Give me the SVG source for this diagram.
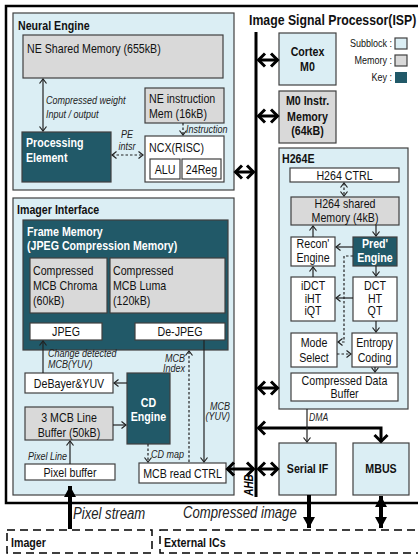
<svg xmlns="http://www.w3.org/2000/svg" width="418" height="556" viewBox="0 0 418 556">
<style>
text { font-family: "Liberation Sans", Arial, sans-serif; font-size: 13px; fill: #111; }
.b { font-weight: bold; }
.w { fill: #fff; font-weight: bold; }
.i { font-style: italic; font-size: 11px; fill: #222; }
.c { text-anchor: middle; }
.e { text-anchor: end; }
.lb { fill: #dbeef4; stroke: #404040; stroke-width: 1.2; }
.gr { fill: #d9d9d9; stroke: #404040; stroke-width: 1.2; }
.wh { fill: #fff; stroke: #404040; stroke-width: 1.2; }
.tl { fill: #215968; stroke: #404040; stroke-width: 1.2; }
.ln { fill: none; stroke: #222; stroke-width: 1.2; }
.da { fill: none; stroke: #222; stroke-width: 1.2; stroke-dasharray: 2.5,2; }
.bus { fill: none; stroke: #000; stroke-width: 3; }
.big { fill: none; stroke: #000; stroke-width: 4; }
.dash { fill: none; stroke: #000; stroke-width: 1.5; stroke-dasharray: 8,5; }
</style>
<defs>
<marker id="h" markerWidth="8" markerHeight="10" refX="5.5" refY="5" orient="auto-start-reverse" markerUnits="userSpaceOnUse">
<path d="M1,1.5 L5.5,5 L1,8.5" fill="none" stroke="#222" stroke-width="1.2"/>
</marker>
<marker id="hb" markerWidth="12" markerHeight="16" refX="9" refY="8" orient="auto-start-reverse" markerUnits="userSpaceOnUse">
<path d="M2,1.5 L8.5,8 L2,14.5" fill="none" stroke="#000" stroke-width="3"/>
</marker>
<marker id="ht" markerWidth="14" markerHeight="14" refX="11" refY="7" orient="auto-start-reverse" markerUnits="userSpaceOnUse">
<path d="M0,1 L11,7 L0,13 Z" fill="#000"/>
</marker>
</defs>

<rect x="6" y="6" width="430" height="497" fill="#fff" stroke="#000" stroke-width="2.5"/>
<text class="b" transform="matrix(.82 0 0 1 249 25)" style="font-size:15px">Image Signal Processor(ISP)</text>

<g id="legend">
<text class="e" transform="matrix(.82 0 0 1 392 47)" style="font-size:11px">Subblock :</text>
<rect x="395" y="38" width="12" height="11" class="lb"/>
<text class="e" transform="matrix(.82 0 0 1 392 64)" style="font-size:11px">Memory :</text>
<rect x="395" y="55" width="12" height="11" class="gr"/>
<text class="e" transform="matrix(.82 0 0 1 392 81)" style="font-size:11px">Key :</text>
<rect x="395" y="72" width="12" height="11" fill="#215968"/>
</g>

<g id="neural-engine">
<rect x="13" y="13" width="221" height="177" class="lb"/>
<text class="b" transform="matrix(.82 0 0 1 18 30)">Neural Engine</text>
</g>
<g id="ne-shared-memory">
<rect x="23" y="35" width="200" height="43" class="gr"/>
<text transform="matrix(.82 0 0 1 27 53)">NE Shared Memory (655kB)</text>
</g>
<g id="processing-element">
<rect x="22" y="132" width="89" height="50" class="tl"/>
<text class="w" transform="matrix(.82 0 0 1 26 147)">Processing</text>
<text class="w" transform="matrix(.82 0 0 1 26 162)">Element</text>
</g>
<g id="ne-instruction-mem">
<rect x="145" y="88" width="79" height="35" class="gr"/>
<text transform="matrix(.82 0 0 1 149 103)">NE instruction</text>
<text transform="matrix(.82 0 0 1 149 118)">Mem (16kB)</text>
</g>
<g id="ncx">
<rect x="145" y="136" width="79" height="46" class="wh"/>
<text transform="matrix(.82 0 0 1 149 152)">NCX(RISC)</text>
<rect x="150" y="159" width="30" height="20" class="wh"/>
<text class="c" transform="matrix(.82 0 0 1 165 174)">ALU</text>
<rect x="182" y="159" width="39" height="20" class="wh"/>
<text class="c" transform="matrix(.82 0 0 1 201.5 174)">24Reg</text>
</g>

<g id="cortex-m0">
<rect x="279" y="33" width="57" height="52" class="lb"/>
<text class="b c" transform="matrix(.82 0 0 1 307.5 56)">Cortex</text>
<text class="b c" transform="matrix(.82 0 0 1 307.5 71)">M0</text>
</g>
<g id="m0-instr-memory">
<rect x="279" y="91" width="57" height="52" class="gr"/>
<text class="b c" transform="matrix(.82 0 0 1 307.5 105)">M0 Instr.</text>
<text class="b c" transform="matrix(.82 0 0 1 307.5 121)">Memory</text>
<text class="b c" transform="matrix(.82 0 0 1 307.5 135)">(64kB)</text>
</g>

<g id="h264e">
<rect x="279" y="148" width="129" height="261" class="lb"/>
<text class="b" transform="matrix(.82 0 0 1 282 163)">H264E</text>
</g>
<g id="h264-ctrl">
<rect x="290" y="168" width="109" height="14" class="wh"/>
<text class="c" transform="matrix(.82 0 0 1 344.5 179.5)">H264 CTRL</text>
</g>
<g id="h264-shared-memory">
<rect x="291" y="197" width="108" height="28" class="gr"/>
<text class="c" transform="matrix(.82 0 0 1 345 208)">H264 shared</text>
<text class="c" transform="matrix(.82 0 0 1 345 222)">Memory (4kB)</text>
</g>
<g id="recon-engine">
<rect x="291" y="237" width="44" height="29" class="wh"/>
<text class="c" transform="matrix(.82 0 0 1 313 248)">Recon'</text>
<text class="c" transform="matrix(.82 0 0 1 313 262)">Engine</text>
</g>
<g id="pred-engine">
<rect x="353" y="237" width="44" height="29" class="tl"/>
<text class="w c" transform="matrix(.82 0 0 1 375 248)">Pred'</text>
<text class="w c" transform="matrix(.82 0 0 1 375 262)">Engine</text>
</g>
<g id="idct">
<rect x="291" y="277" width="44" height="44" class="wh"/>
<text class="c" transform="matrix(.82 0 0 1 313 289.5)">iDCT</text>
<text class="c" transform="matrix(.82 0 0 1 313 302.5)">iHT</text>
<text class="c" transform="matrix(.82 0 0 1 313 315)">iQT</text>
</g>
<g id="dct">
<rect x="353" y="277" width="44" height="44" class="wh"/>
<text class="c" transform="matrix(.82 0 0 1 375 289.5)">DCT</text>
<text class="c" transform="matrix(.82 0 0 1 375 302.5)">HT</text>
<text class="c" transform="matrix(.82 0 0 1 375 315)">QT</text>
</g>
<g id="mode-select">
<rect x="291" y="333" width="46" height="34" class="wh"/>
<text class="c" transform="matrix(.82 0 0 1 314 347)">Mode</text>
<text class="c" transform="matrix(.82 0 0 1 314 362)">Select</text>
</g>
<g id="entropy-coding">
<rect x="352" y="333" width="45" height="34" class="wh"/>
<text class="c" transform="matrix(.82 0 0 1 374.5 347)">Entropy</text>
<text class="c" transform="matrix(.82 0 0 1 374.5 362)">Coding</text>
</g>
<g id="compressed-data-buffer">
<rect x="291" y="373" width="107" height="28" class="wh"/>
<text class="c" transform="matrix(.82 0 0 1 344.5 384.5)">Compressed Data</text>
<text class="c" transform="matrix(.82 0 0 1 344.5 398)">Buffer</text>
</g>

<g id="serial-if">
<rect x="279" y="443" width="57" height="52" class="lb"/>
<text class="b c" transform="matrix(.82 0 0 1 307.5 473)">Serial IF</text>
</g>
<g id="mbus">
<rect x="353" y="443" width="56" height="52" class="lb"/>
<text class="b c" transform="matrix(.82 0 0 1 381 473)">MBUS</text>
</g>

<g id="imager-interface">
<rect x="13" y="198" width="221" height="297" class="lb"/>
<text class="b" transform="matrix(.82 0 0 1 17 214)">Imager Interface</text>
</g>
<g id="frame-memory">
<rect x="23" y="220" width="205" height="130" class="tl"/>
<text class="w" transform="matrix(.82 0 0 1 27 236)">Frame Memory</text>
<text class="w" transform="matrix(.82 0 0 1 27 250)">(JPEG Compression Memory)</text>
</g>
<g id="mcb-chroma">
<rect x="30" y="258" width="77" height="55" class="gr"/>
<text transform="matrix(.82 0 0 1 33 275)">Compressed</text>
<text transform="matrix(.82 0 0 1 33 290)">MCB Chroma</text>
<text transform="matrix(.82 0 0 1 33 305)">(60kB)</text>
</g>
<g id="mcb-luma">
<rect x="110" y="258" width="115" height="55" class="gr"/>
<text transform="matrix(.82 0 0 1 113 275)">Compressed</text>
<text transform="matrix(.82 0 0 1 113 290)">MCB Luma</text>
<text transform="matrix(.82 0 0 1 113 305)">(120kB)</text>
</g>
<g id="jpeg">
<rect x="30" y="323" width="72" height="17" class="wh"/>
<text class="c" transform="matrix(.82 0 0 1 66 336)">JPEG</text>
</g>
<g id="de-jpeg">
<rect x="135" y="323" width="90" height="17" class="wh"/>
<text class="c" transform="matrix(.82 0 0 1 180 336)">De-JPEG</text>
</g>
<g id="debayer">
<rect x="25" y="373" width="88" height="20" class="wh"/>
<text class="c" transform="matrix(.82 0 0 1 69 387.5)">DeBayer&amp;YUV</text>
</g>
<g id="cd-engine">
<rect x="127" y="373" width="43" height="71" class="tl"/>
<text class="w c" transform="matrix(.82 0 0 1 148.5 407)">CD</text>
<text class="w c" transform="matrix(.82 0 0 1 148.5 421)">Engine</text>
</g>
<g id="line-buffer">
<rect x="25" y="407" width="88" height="33" class="gr"/>
<text class="c" transform="matrix(.82 0 0 1 69 422)">3 MCB Line</text>
<text class="c" transform="matrix(.82 0 0 1 69 437)">Buffer (50kB)</text>
</g>
<g id="pixel-buffer">
<rect x="25" y="464" width="90" height="16" class="wh"/>
<text class="c" transform="matrix(.82 0 0 1 70 476.5)">Pixel buffer</text>
</g>
<g id="mcb-read-ctrl">
<rect x="139" y="463" width="87" height="20" class="wh"/>
<text class="c" transform="matrix(.82 0 0 1 182.5 477.5)">MCB read CTRL</text>
</g>

<g id="imager">
<rect x="7" y="530" width="145" height="23" class="dash"/>
<text class="b" transform="matrix(.82 0 0 1 11 547)">Imager</text>
</g>
<g id="external-ics">
<rect x="160" y="530" width="270" height="23" class="dash"/>
<text class="b" transform="matrix(.82 0 0 1 164 547)">External ICs</text>
</g>

<g id="connectors">
<line x1="256" y1="32" x2="256" y2="497" class="bus"/>
<line x1="235" y1="172" x2="254" y2="172" class="bus" marker-start="url(#hb)" marker-end="url(#hb)"/>
<line x1="258" y1="60" x2="278" y2="60" class="bus" marker-start="url(#hb)" marker-end="url(#hb)"/>
<line x1="258" y1="116" x2="278" y2="116" class="bus" marker-start="url(#hb)" marker-end="url(#hb)"/>
<line x1="258" y1="388" x2="278" y2="388" class="bus" marker-start="url(#hb)" marker-end="url(#hb)"/>
<line x1="258" y1="469" x2="278" y2="469" class="bus" marker-start="url(#hb)" marker-end="url(#hb)"/>
<line x1="227" y1="469" x2="254" y2="469" class="bus" marker-start="url(#hb)" marker-end="url(#hb)"/>
<path d="M258,428 H381 V442" class="bus" marker-start="url(#hb)" marker-end="url(#hb)"/>

<line x1="43" y1="79" x2="43" y2="131" class="ln" marker-start="url(#h)" marker-end="url(#h)"/>
<text class="i" transform="matrix(.82 0 0 1 46 104)">Compressed weight</text>
<text class="i" transform="matrix(.82 0 0 1 46 118)">Input / output</text>
<line x1="112" y1="155" x2="143" y2="155" class="da" marker-start="url(#h)" marker-end="url(#h)"/>
<text class="i c" transform="matrix(.82 0 0 1 127 138)">PE</text>
<text class="i c" transform="matrix(.82 0 0 1 127 150)">intsr</text>
<line x1="183" y1="123" x2="183" y2="135" class="da" marker-end="url(#h)"/>
<text class="i" transform="matrix(.82 0 0 1 186 133)">Instruction</text>

<line x1="344" y1="183" x2="344" y2="196" class="da" marker-start="url(#h)" marker-end="url(#h)"/>
<line x1="313" y1="237" x2="313" y2="226" class="ln" marker-end="url(#h)"/>
<line x1="376" y1="225" x2="376" y2="236" class="ln" marker-end="url(#h)"/>
<line x1="353" y1="247" x2="336" y2="247" class="ln" marker-end="url(#h)"/>
<line x1="313" y1="277" x2="313" y2="267" class="ln" marker-end="url(#h)"/>
<line x1="376" y1="266" x2="376" y2="276" class="ln" marker-end="url(#h)"/>
<line x1="353" y1="298" x2="336" y2="298" class="ln" marker-end="url(#h)"/>
<path d="M353,256 H344 V342 H338" class="da" marker-end="url(#h)"/>
<line x1="337" y1="354" x2="351" y2="354" class="da" marker-end="url(#h)"/>
<line x1="376" y1="321" x2="376" y2="332" class="ln" marker-end="url(#h)"/>
<line x1="375" y1="367" x2="375" y2="372" class="ln" marker-end="url(#h)"/>
<line x1="307" y1="409" x2="307" y2="442" class="ln" marker-end="url(#h)"/>
<text class="i" transform="matrix(.82 0 0 1 309 421)" style="font-size:10.5px">DMA</text>

<line x1="43" y1="373" x2="43" y2="341" class="ln" marker-end="url(#h)"/>
<text class="i" transform="matrix(.82 0 0 1 48 357)">Change detected</text>
<text class="i" transform="matrix(.82 0 0 1 48 368)">MCB(YUV)</text>
<line x1="127" y1="383" x2="114" y2="383" class="ln" marker-end="url(#h)"/>
<line x1="113" y1="425" x2="126" y2="425" class="ln" marker-end="url(#h)"/>
<line x1="70" y1="464" x2="70" y2="441" class="ln" marker-end="url(#h)"/>
<text class="i" transform="matrix(.82 0 0 1 28 460)">Pixel Line</text>
<line x1="148" y1="444" x2="148" y2="462" class="da" marker-end="url(#h)"/>
<text class="i" transform="matrix(.82 0 0 1 151 458)">CD map</text>
<line x1="189" y1="462" x2="189" y2="351" class="da" marker-end="url(#h)"/>
<text class="i e" transform="matrix(.82 0 0 1 185 362)">MCB</text>
<text class="i e" transform="matrix(.82 0 0 1 185 372)">Index</text>
<line x1="204" y1="340" x2="204" y2="462" class="ln" marker-end="url(#h)"/>
<text class="i e" transform="matrix(.82 0 0 1 230 410)">MCB</text>
<text class="i e" transform="matrix(.82 0 0 1 230 420)">(YUV)</text>
<text class="b i c" transform="translate(253,485) rotate(-90) scale(.82,1)" style="font-size:12px;fill:#000">AHB</text>

<line x1="70" y1="529" x2="70" y2="486" class="big" marker-end="url(#ht)"/>
<line x1="309" y1="495" x2="309" y2="528" class="big" marker-end="url(#ht)"/>
<line x1="381" y1="496" x2="381" y2="528" class="big" marker-start="url(#ht)" marker-end="url(#ht)"/>
<text class="i" transform="matrix(.82 0 0 1 73 519)" style="font-size:16px">Pixel stream</text>
<text class="i" transform="matrix(.82 0 0 1 183 518)" style="font-size:16px">Compressed image</text>
</g>
</svg>
